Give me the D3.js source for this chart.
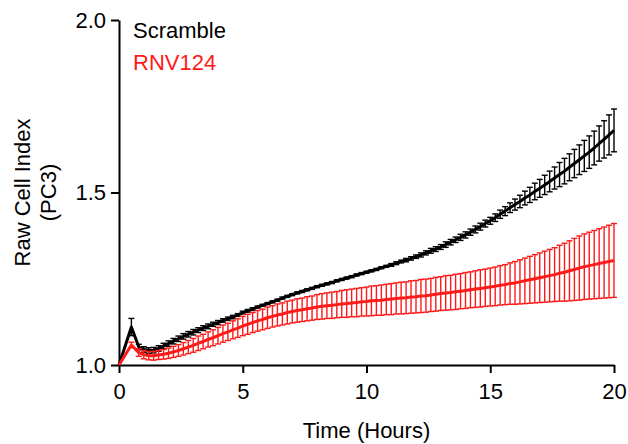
<!DOCTYPE html>
<html>
<head>
<meta charset="utf-8">
<script src="https://cdn.jsdelivr.net/npm/d3@7"></script>
<style>
  body { margin: 0; background: #fff; }
  text { font-family: "Liberation Sans", Arial, sans-serif; }
</style>
</head>
<body>
<svg></svg>
<script>
// time points (hours)
var hours = [0, 0.5, 0.8, 1.0, 1.2, 1.4, 1.6, 1.8, 2.0, 2.2, 2.4, 2.6, 2.8, 3.0, 3.2, 3.4, 3.6, 3.8, 4.0,
  4.2, 4.4, 4.6, 4.8, 5.0, 5.2, 5.4, 5.6, 5.8, 6.0, 6.2, 6.4, 6.6, 6.8, 7.0, 7.2, 7.4, 7.6, 7.8, 8.0,
  8.2, 8.4, 8.6, 8.8, 9.0, 9.2, 9.4, 9.6, 9.8, 10.0, 10.2, 10.4, 10.6, 10.8, 11.0, 11.2, 11.4, 11.6, 11.8, 12.0,
  12.2, 12.4, 12.6, 12.8, 13.0, 13.2, 13.4, 13.6, 13.8, 14.0, 14.2, 14.4, 14.6, 14.8, 15.0, 15.2, 15.4, 15.6, 15.8, 16.0,
  16.2, 16.4, 16.6, 16.8, 17.0, 17.2, 17.4, 17.6, 17.8, 18.0, 18.2, 18.4, 18.6, 18.8, 19.0, 19.2, 19.4, 19.6, 19.8, 20.0];

var scrambleMean = [1.000, 1.110, 1.052, 1.045, 1.042, 1.043, 1.048, 1.055, 1.062, 1.069, 1.076, 1.083, 1.089, 1.095, 1.101, 1.107, 1.112, 1.118, 1.123,
  1.129, 1.134, 1.139, 1.145, 1.152, 1.157, 1.162, 1.168, 1.173, 1.178, 1.183, 1.188, 1.194, 1.199, 1.204, 1.209, 1.213, 1.218, 1.222, 1.227,
  1.231, 1.235, 1.239, 1.244, 1.248, 1.252, 1.256, 1.261, 1.265, 1.269, 1.273, 1.277, 1.282, 1.286, 1.290, 1.295, 1.300, 1.304, 1.309, 1.314,
  1.319, 1.325, 1.331, 1.336, 1.342, 1.349, 1.356, 1.363, 1.370, 1.377, 1.385, 1.393, 1.401, 1.410, 1.418, 1.427, 1.437, 1.446, 1.456, 1.465,
  1.474, 1.484, 1.493, 1.503, 1.512, 1.522, 1.532, 1.542, 1.552, 1.562, 1.573, 1.584, 1.595, 1.606, 1.617, 1.629, 1.642, 1.654, 1.667, 1.680];

var scrambleErr = [0, 0.025, 0.008, 0.008, 0.008, 0.008, 0.008, 0.008, 0.008, 0.008, 0.008, 0.008, 0.008, 0.008, 0.007, 0.007, 0.007, 0.006, 0.006,
  0.005, 0.005, 0.005, 0.004, 0.004, 0.004, 0.004, 0.003, 0.003, 0.003, 0.003, 0.003, 0.003, 0.003, 0.003, 0.003, 0.003, 0.003, 0.003, 0.003,
  0.003, 0.003, 0.003, 0.003, 0.003, 0.003, 0.003, 0.003, 0.003, 0.003, 0.003, 0.003, 0.003, 0.003, 0.004, 0.004, 0.004, 0.005, 0.005, 0.005,
  0.006, 0.006, 0.007, 0.007, 0.007, 0.008, 0.008, 0.008, 0.009, 0.009, 0.009, 0.010, 0.010, 0.010, 0.010, 0.011, 0.012, 0.013, 0.014, 0.016,
  0.018, 0.020, 0.022, 0.024, 0.026, 0.028, 0.030, 0.032, 0.035, 0.037, 0.039, 0.041, 0.043, 0.045, 0.047, 0.049, 0.051, 0.054, 0.058, 0.062];

var rnvMean = [1.000, 1.058, 1.036, 1.030, 1.027, 1.027, 1.029, 1.031, 1.034, 1.038, 1.042, 1.047, 1.052, 1.057, 1.063, 1.068, 1.074, 1.079, 1.085,
  1.091, 1.096, 1.102, 1.107, 1.113, 1.118, 1.123, 1.128, 1.132, 1.137, 1.141, 1.145, 1.148, 1.152, 1.155, 1.158, 1.160, 1.163, 1.165, 1.168,
  1.170, 1.172, 1.173, 1.175, 1.177, 1.178, 1.180, 1.181, 1.183, 1.184, 1.186, 1.187, 1.188, 1.190, 1.191, 1.193, 1.194, 1.195, 1.197, 1.198,
  1.200, 1.201, 1.203, 1.205, 1.207, 1.209, 1.210, 1.212, 1.214, 1.216, 1.218, 1.220, 1.222, 1.224, 1.226, 1.228, 1.231, 1.233, 1.236, 1.238,
  1.241, 1.244, 1.247, 1.250, 1.253, 1.256, 1.259, 1.262, 1.266, 1.269, 1.273, 1.277, 1.281, 1.285, 1.288, 1.291, 1.294, 1.297, 1.300, 1.303];

var rnvErr = [0, 0.008, 0.011, 0.012, 0.012, 0.013, 0.013, 0.014, 0.015, 0.016, 0.017, 0.018, 0.019, 0.020, 0.021, 0.021, 0.022, 0.023, 0.024,
  0.025, 0.025, 0.026, 0.027, 0.028, 0.029, 0.029, 0.030, 0.030, 0.031, 0.031, 0.032, 0.032, 0.033, 0.033, 0.034, 0.034, 0.035, 0.035, 0.036,
  0.037, 0.037, 0.038, 0.038, 0.039, 0.040, 0.040, 0.041, 0.041, 0.042, 0.043, 0.043, 0.044, 0.044, 0.045, 0.045, 0.046, 0.046, 0.047, 0.047,
  0.048, 0.048, 0.048, 0.049, 0.049, 0.050, 0.050, 0.051, 0.051, 0.052, 0.052, 0.053, 0.054, 0.054, 0.055, 0.056, 0.057, 0.058, 0.060, 0.062,
  0.064, 0.066, 0.068, 0.070, 0.072, 0.074, 0.076, 0.078, 0.081, 0.084, 0.087, 0.090, 0.093, 0.095, 0.097, 0.099, 0.101, 0.103, 0.105, 0.107];

var xTicks = [0, 5, 10, 15, 20];
var yTicks = [1.0, 1.5, 2.0];

var series = [
  {name: "Scramble", color: "#000000", mean: scrambleMean, err: scrambleErr},
  {name: "RNV124", color: "#ff1a1a", mean: rnvMean, err: rnvErr}
];

var screen = {width: 628, height: 444};
var margins = {top: 20, bottom: 79, left: 119, right: 14};
var width = screen.width - margins.left - margins.right;
var height = screen.height - margins.top - margins.bottom;

var svg = d3.select("svg")
            .attr("width", screen.width)
            .attr("height", screen.height);

var xScale = d3.scaleLinear().domain([0, 20]).range([0, width]);
var yScale = d3.scaleLinear().domain([1, 2]).range([height, 0]);

var plot = svg.append("g")
              .attr("transform", "translate(" + margins.left + "," + margins.top + ")");

var xAxis = d3.axisBottom(xScale).tickValues(xTicks).tickSize(8).tickSizeOuter(0).tickPadding(10)
              .tickFormat(d3.format("d"));
var yAxis = d3.axisLeft(yScale).tickValues(yTicks).tickSize(8).tickSizeOuter(0).tickPadding(5)
              .tickFormat(d3.format(".1f"));

var gx = plot.append("g").attr("transform", "translate(0," + height + ")").call(xAxis);
var gy = plot.append("g").call(yAxis);

[gx, gy].forEach(function(g) {
  g.selectAll("path, line").attr("stroke", "#000").attr("stroke-width", 2);
  g.selectAll("text").attr("font-size", 22).attr("fill", "#000")
   .style("font-family", "'Liberation Sans', Arial, sans-serif");
});

// series
series.forEach(function(s) {
  var pts = hours.map(function(h, i) { return {t: h, m: s.mean[i], e: s.err[i]}; });
  var g = plot.append("g").attr("class", "series");

  var bars = g.selectAll("g.bar")
              .data(pts.filter(function(d) { return d.e > 0; }))
              .enter()
              .append("g")
              .attr("stroke", s.color)
              .attr("stroke-width", 1.4);
  bars.append("line")
      .attr("x1", function(d) { return xScale(d.t); })
      .attr("x2", function(d) { return xScale(d.t); })
      .attr("y1", function(d) { return yScale(d.m - d.e); })
      .attr("y2", function(d) { return yScale(d.m + d.e); });
  bars.append("line")
      .attr("x1", function(d) { return xScale(d.t) - 3; })
      .attr("x2", function(d) { return xScale(d.t) + 3; })
      .attr("y1", function(d) { return yScale(d.m + d.e); })
      .attr("y2", function(d) { return yScale(d.m + d.e); });
  bars.append("line")
      .attr("x1", function(d) { return xScale(d.t) - 3; })
      .attr("x2", function(d) { return xScale(d.t) + 3; })
      .attr("y1", function(d) { return yScale(d.m - d.e); })
      .attr("y2", function(d) { return yScale(d.m - d.e); });

  var line = d3.line()
               .x(function(d) { return xScale(d.t); })
               .y(function(d) { return yScale(d.m); });
  g.append("path")
   .datum(pts)
   .attr("d", line)
   .attr("fill", "none")
   .attr("stroke", s.color)
   .attr("stroke-width", 3)
   .attr("stroke-linejoin", "round");
});

// legend
var legend = svg.append("g").attr("transform", "translate(133,38)");
legend.selectAll("text")
      .data(series)
      .enter()
      .append("text")
      .attr("x", 0)
      .attr("y", function(d, i) { return i * 32; })
      .attr("font-size", 22)
      .attr("fill", function(d) { return d.color; })
      .text(function(d) { return d.name; });

// axis titles
svg.append("text")
   .attr("x", margins.left + xScale(10))
   .attr("y", 438)
   .attr("text-anchor", "middle")
   .attr("font-size", 22)
   .text("Time (Hours)");

var yTitle = svg.append("text")
   .attr("transform", "translate(30," + (margins.top + height / 2) + ") rotate(-90)")
   .attr("text-anchor", "middle")
   .attr("font-size", 22);
yTitle.append("tspan").attr("x", 0).attr("dy", 0).text("Raw Cell Index");
yTitle.append("tspan").attr("x", 0).attr("dy", 26).text("(PC3)");
</script>
</body>
</html>
